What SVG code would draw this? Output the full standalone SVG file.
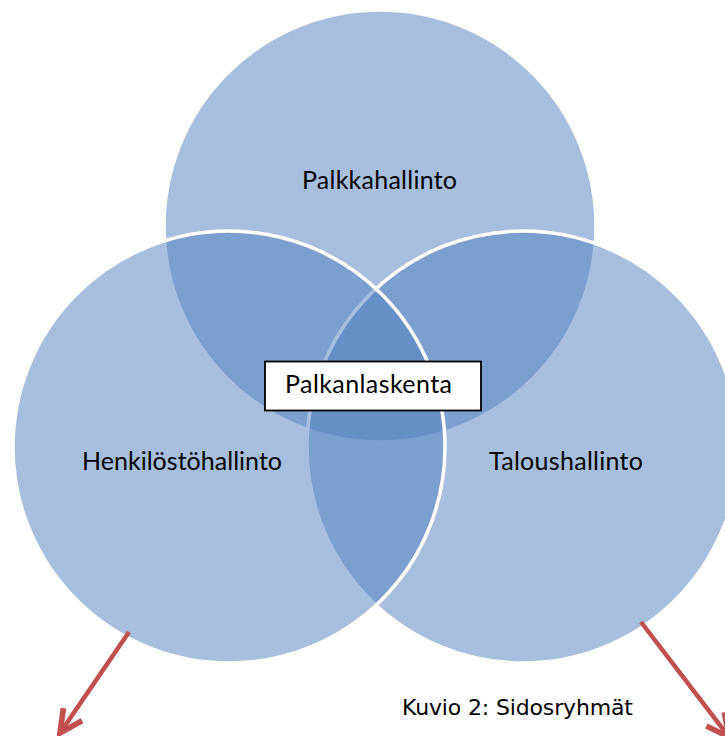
<svg xmlns="http://www.w3.org/2000/svg" width="725" height="736" viewBox="0 0 725 736">
  <style>
    .circle { fill: #5382BE; fill-opacity: 0.51; stroke: #FFFFFF; stroke-width: 3.5; }
    .label { font-family: Lato, "Open Sans", sans-serif; font-size: 25px; fill: #000000; }
    .box { fill: #FFFFFF; stroke: #000000; stroke-width: 1.8; }
    .caption { font-family: "DejaVu Sans", Verdana, sans-serif; font-size: 22px; fill: #000000; }
    .arrow { fill: none; stroke: #C0504D; stroke-width: 4.5; stroke-linecap: butt; }
  </style>
  <defs>
    <marker id="openArrow" markerUnits="userSpaceOnUse" markerWidth="40" markerHeight="40" refX="0" refY="0" viewBox="-24 -16 30 32" orient="auto" overflow="visible">
      <path d="M-18,-9 L0,0 L-18,9" fill="none" stroke="#C0504D" stroke-width="4.5" stroke-linejoin="miter"/>
    </marker>
  </defs>
  <rect width="725" height="736" fill="#FFFFFF"/>

  <g id="node-palkkahallinto">
    <circle class="circle" cx="380" cy="226" r="216"/>
    <text class="label" x="302" y="189" textLength="155">Palkkahallinto</text>
  </g>

  <g id="node-taloushallinto">
    <circle class="circle" cx="523" cy="447" r="216"/>
    <text class="label" x="489" y="470" textLength="154">Taloushallinto</text>
  </g>

  <g id="node-henkilostohallinto">
    <circle class="circle" cx="229" cy="447" r="216"/>
    <text class="label" x="82" y="470" textLength="200">Henkilöstöhallinto</text>
  </g>

  <g id="node-palkanlaskenta">
    <rect class="box" x="265" y="361.5" width="216" height="49"/>
    <text class="label" x="285" y="393" textLength="167">Palkanlaskenta</text>
  </g>

  <g id="connectors">
    <line class="arrow" x1="129" y1="632" x2="60" y2="733" marker-end="url(#openArrow)"/>
    <line class="arrow" x1="641" y1="622" x2="729" y2="737" marker-end="url(#openArrow)"/>
  </g>

  <g id="caption">
    <text class="caption" x="402" y="715" textLength="231">Kuvio 2: Sidosryhmät</text>
  </g>
</svg>
